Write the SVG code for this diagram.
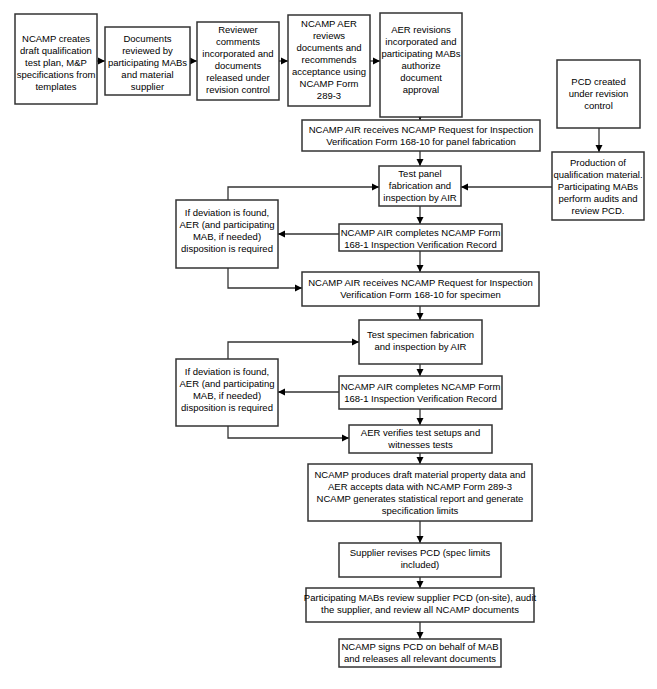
<svg xmlns="http://www.w3.org/2000/svg" width="657" height="689" viewBox="0 0 657 689">
<defs>
<marker id="ah" markerWidth="8" markerHeight="8" refX="7" refY="4" orient="auto" markerUnits="userSpaceOnUse"><path d="M0,0.5 L7,4 L0,7.5 z" fill="#000"/></marker>
<style>
rect{fill:#fff;stroke:#333;stroke-width:1.5}
text{font-family:"Liberation Sans",Arial,sans-serif;font-size:9.5px;fill:#000;text-anchor:middle}
#conn path{fill:none;stroke:#333;stroke-width:1.3;marker-end:url(#ah)}
</style>
</defs>
<rect x="0" y="0" width="657" height="689" style="fill:#fff;stroke:none"/>
<g id="conn">
<path d="M97,61 H105"/><path d="M190,61 H197"/><path d="M279,61 H288"/><path d="M370,61 H380"/>
<path d="M420,117 V120"/>
<path d="M599,128 V152"/>
<path d="M420,151 V166"/>
<path d="M552,187 H461"/>
<path d="M420,206 V224"/>
<path d="M228,200 V187 H379"/>
<path d="M339,234 H278"/>
<path d="M420,251 V272"/>
<path d="M228,268 V288 H302"/>
<path d="M420,306 V320"/>
<path d="M420,364 V376"/>
<path d="M228,359 V342 H359"/>
<path d="M339,392 H278"/>
<path d="M420,409 V425"/>
<path d="M228,426 V438 H349"/>
<path d="M420,453 V464"/>
<path d="M420,521 V543"/>
<path d="M420,577 V588"/>
<path d="M420,622 V639"/>
</g>
<g id="n1"><rect x="15" y="14" width="82" height="90"/><text><tspan x="56" y="42">NCAMP creates</tspan><tspan x="56" y="54">draft qualification</tspan><tspan x="56" y="66">test plan, M&amp;P</tspan><tspan x="56" y="78">specifications from</tspan><tspan x="56" y="90">templates</tspan></text></g>
<g id="n2"><rect x="105" y="27" width="85" height="68"/><text><tspan x="147.5" y="42">Documents</tspan><tspan x="147.5" y="54">reviewed by</tspan><tspan x="147.5" y="66">participating MABs</tspan><tspan x="147.5" y="78">and material</tspan><tspan x="147.5" y="90">supplier</tspan></text></g>
<g id="n3"><rect x="197" y="22" width="82" height="78"/><text><tspan x="238" y="33">Reviewer</tspan><tspan x="238" y="45">comments</tspan><tspan x="238" y="57">incorporated and</tspan><tspan x="238" y="69">documents</tspan><tspan x="238" y="81">released under</tspan><tspan x="238" y="93">revision control</tspan></text></g>
<g id="n4"><rect x="288" y="15" width="82" height="91"/><text><tspan x="329" y="27">NCAMP AER</tspan><tspan x="329" y="39">reviews</tspan><tspan x="329" y="51">documents and</tspan><tspan x="329" y="63">recommends</tspan><tspan x="329" y="75">acceptance using</tspan><tspan x="329" y="87">NCAMP Form</tspan><tspan x="329" y="99">289-3</tspan></text></g>
<g id="n5"><rect x="380" y="13" width="82" height="104"/><text><tspan x="421" y="33">AER revisions</tspan><tspan x="421" y="45">incorporated and</tspan><tspan x="421" y="57">participating MABs</tspan><tspan x="421" y="69">authorize</tspan><tspan x="421" y="81">document</tspan><tspan x="421" y="93">approval</tspan></text></g>
<g id="pcd"><rect x="557" y="60" width="83" height="68"/><text><tspan x="598.5" y="85">PCD created</tspan><tspan x="598.5" y="97">under revision</tspan><tspan x="598.5" y="109">control</tspan></text></g>
<g id="req1"><rect x="302" y="120" width="238" height="31"/><text><tspan x="421" y="133">NCAMP AIR receives NCAMP Request for Inspection</tspan><tspan x="421" y="145">Verification Form 168-10 for panel fabrication</tspan></text></g>
<g id="prod"><rect x="552" y="152" width="92" height="68"/><text><tspan x="598" y="166">Production of</tspan><tspan x="598" y="178">qualification material.</tspan><tspan x="598" y="190">Participating MABs</tspan><tspan x="598" y="202">perform audits and</tspan><tspan x="598" y="214">review PCD.</tspan></text></g>
<g id="panel"><rect x="379" y="166" width="82" height="40"/><text><tspan x="420" y="177">Test panel</tspan><tspan x="420" y="189">fabrication and</tspan><tspan x="420" y="201">inspection by AIR</tspan></text></g>
<g id="dev1"><rect x="176" y="200" width="102" height="68"/><text><tspan x="227" y="216">If deviation is found,</tspan><tspan x="227" y="228">AER (and participating</tspan><tspan x="227" y="240">MAB, if needed)</tspan><tspan x="227" y="252">disposition is required</tspan></text></g>
<g id="comp1"><rect x="339" y="224" width="163" height="27"/><text><tspan x="420.5" y="236">NCAMP AIR completes NCAMP Form</tspan><tspan x="420.5" y="248">168-1 Inspection Verification Record</tspan></text></g>
<g id="req2"><rect x="302" y="272" width="237" height="34"/><text><tspan x="420.5" y="286">NCAMP AIR receives NCAMP Request for Inspection</tspan><tspan x="420.5" y="298">Verification Form 168-10 for specimen</tspan></text></g>
<g id="spec"><rect x="359" y="320" width="123" height="44"/><text><tspan x="420.5" y="338">Test specimen fabrication</tspan><tspan x="420.5" y="350">and inspection by AIR</tspan></text></g>
<g id="dev2"><rect x="176" y="359" width="102" height="67"/><text><tspan x="227" y="375">If deviation is found,</tspan><tspan x="227" y="387">AER (and participating</tspan><tspan x="227" y="399">MAB, if needed)</tspan><tspan x="227" y="411">disposition is required</tspan></text></g>
<g id="comp2"><rect x="339" y="376" width="163" height="33"/><text><tspan x="420.5" y="390">NCAMP AIR completes NCAMP Form</tspan><tspan x="420.5" y="402">168-1 Inspection Verification Record</tspan></text></g>
<g id="verify"><rect x="349" y="425" width="143" height="28"/><text><tspan x="420.5" y="436">AER verifies test setups and</tspan><tspan x="420.5" y="448">witnesses tests</tspan></text></g>
<g id="produce"><rect x="308" y="464" width="224" height="57"/><text><tspan x="420" y="478">NCAMP produces draft material property data and</tspan><tspan x="420" y="490">AER accepts data with NCAMP Form 289-3</tspan><tspan x="420" y="502">NCAMP generates statistical report and generate</tspan><tspan x="420" y="514">specification limits</tspan></text></g>
<g id="supplier"><rect x="339" y="543" width="162" height="34"/><text><tspan x="420" y="556">Supplier revises PCD (spec limits</tspan><tspan x="420" y="568">included)</tspan></text></g>
<g id="mabs"><rect x="306" y="588" width="228" height="34"/><text><tspan x="420" y="601">Participating MABs review supplier PCD (on-site), audit</tspan><tspan x="420" y="613">the supplier, and review all NCAMP documents</tspan></text></g>
<g id="signs"><rect x="339" y="639" width="162" height="28"/><text><tspan x="420" y="650">NCAMP signs PCD on behalf of MAB</tspan><tspan x="420" y="662">and releases all relevant documents</tspan></text></g>
</svg>
